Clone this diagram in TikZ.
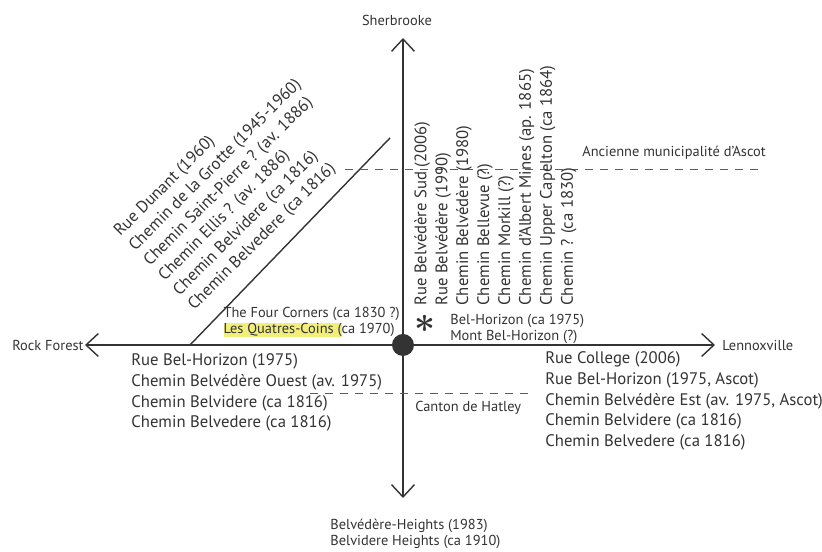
\documentclass[tikz,border=0pt]{standalone}
\usepackage{fontspec}
\setmainfont{PT Sans}
\usetikzlibrary{arrows.meta}
\definecolor{ink}{HTML}{333333}
\definecolor{hl}{HTML}{F2EE7C}

\begin{document}
\begin{tikzpicture}[
    bigtext/.style={font=\fontsize{9.5}{11.9}\selectfont, text=ink, inner sep=0pt, align=left},
    smalltext/.style={font=\fontsize{8.2}{9}\selectfont, text=ink, inner sep=0pt, align=left},
    axis/.style={draw=ink, line width=0.8pt, {Straight Barb[length=7pt,width=13pt]}-{Straight Barb[length=7pt,width=13pt]}},
    limit/.style={draw=ink!80, line width=0.5pt, dash pattern=on 0.16cm off 0.14cm}
]
    \useasboundingbox (-8.06,-4.14) rectangle (8.38,6.9);

    % the two roads
    \coordinate (N) at (0,6.14); \coordinate (S) at (0,-3.06);
    \coordinate (W) at (-6.36,0); \coordinate (E) at (6.24,0);
    \draw[axis] (S) -- (N);
    \draw[axis] (W) -- (E);
    \node [circle, fill=ink, inner sep=0pt, minimum size=0.44cm] (cross) at (0,0) {};

    % old road, north-west
    \coordinate (diagA) at (-4.26,0); \coordinate (diagB) at (-0.26,4.14);
    \draw[ink, line width=0.8pt] (diagA) -- (diagB);

    % limits
    \coordinate (ascotA) at (-1.16,3.52); \coordinate (ascotB) at (7.18,3.52);
    \draw[limit] (ascotA) -- (ascotB);
    \coordinate (hatleyA) at (-1.86,-0.96); \coordinate (hatleyB) at (2.5,-0.96);
    \draw[limit] (hatleyA) -- (hatleyB);

    \node[smalltext] (sher) at (-0.12,6.5) {Sherbrooke};
    \node[smalltext, anchor=west] (rock) at (-7.82,0) {Rock Forest};
    \node[smalltext, anchor=west] (lenno) at (6.38,0) {Lennoxville};
    \node[smalltext, anchor=north west] (heights) at (-1.46,-3.48) {Belvédère-Heights (1983)\\Belvidere Heights (ca 1910)};
    \node[smalltext, anchor=south east] (corners) at (-0.06,0.16) {The Four Corners (ca 1830 ?)\\{\fboxsep=0pt\colorbox{hl}{Les Quatres-Coins (}}ca 1970)};
    \node[text=ink, inner sep=0pt, font=\fontsize{22}{22}\selectfont\boldmath] (star) at (0.44,0.42) {$\ast$};
    \node[smalltext, anchor=west] (belhor) at (0.94,0.32) {Bel-Horizon (ca 1975)\\Mont Bel-Horizon (?)};
    \node[smalltext, anchor=west] (ascot) at (3.58,3.84) {Ancienne municipalité d'Ascot};
    \node[smalltext, anchor=west] (hatley) at (0.24,-1.26) {Canton de Hatley};

    \node[bigtext, anchor=north west] (westroads) at (-5.44,-0.16) {Rue Bel-Horizon (1975)\\Chemin Belvédère Ouest (av. 1975)\\Chemin Belvidere (ca 1816)\\Chemin Belvedere (ca 1816)};
    \node[bigtext, anchor=north west] (eastroads) at (2.84,-0.12) {Rue College (2006)\\Rue Bel-Horizon (1975, Ascot)\\Chemin Belvédère Est (av. 1975, Ascot)\\Chemin Belvidere (ca 1816)\\Chemin Belvedere (ca 1816)};
    \node[bigtext, rotate=90, anchor=north west] (northroads) at (0.22,0.78) {Rue Belvédère Sud (2006)\\Rue Belvédère (1990)\\Chemin Belvédère (1980)\\Chemin Bellevue (?)\\Chemin Morkill (?)\\Chemin d'Albert Mines (ap. 1865)\\Chemin Upper Capelton (ca 1864)\\Chemin ? (ca 1830)};
    \node[bigtext, rotate=45, anchor=south west] (diagroads) at (-4.12,0.62) {Rue Dunant (1960)\\Chemin de la Grotte (1945-1960)\\Chemin Saint-Pierre ? (av. 1886)\\Chemin Ellis ? (av. 1886)\\Chemin Belvidere (ca 1816)\\Chemin Belvedere (ca 1816)};
\end{tikzpicture}
\end{document}
